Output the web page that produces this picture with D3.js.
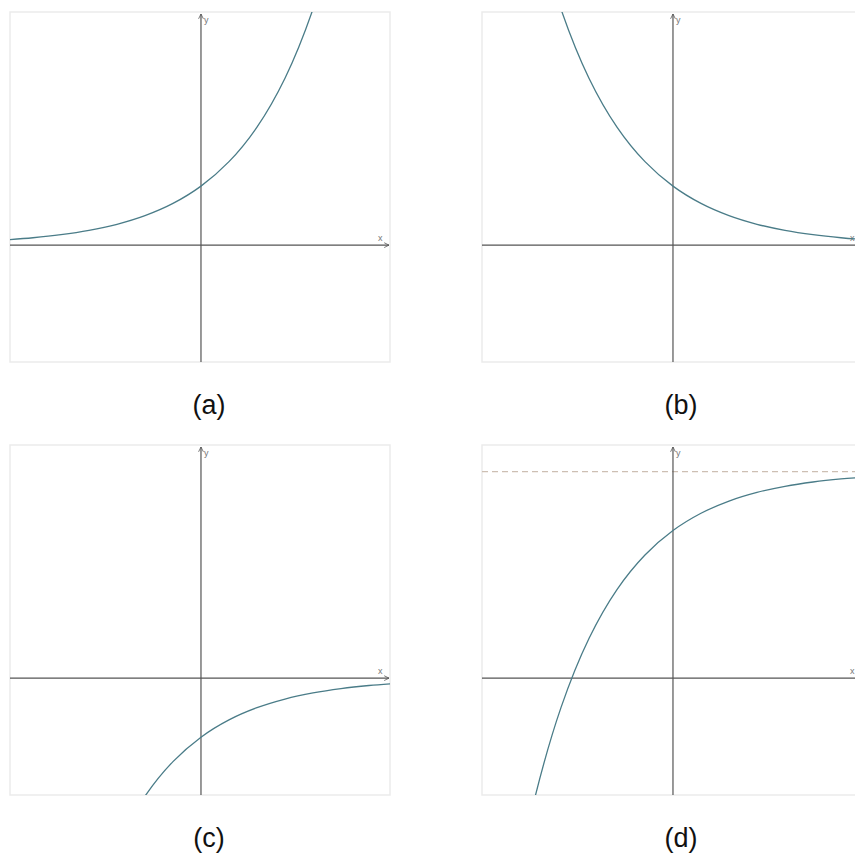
<!DOCTYPE html>
<html>
<head>
<meta charset="utf-8">
<script src="https://cdn.jsdelivr.net/npm/d3@7"></script>
<style>
  html, body { margin: 0; padding: 0; background: #fff; }
  svg { display: block; }
</style>
</head>
<body>
<svg id="chart" width="855" height="854"></svg>
<script>
// Sample positions along x (shared by all four graphs)
const xSamples = [-3.5, -3, -2.5, -2, -1.5, -1, -0.5, 0, 0.5, 1, 1.5, 2, 2.5, 3, 3.5];

// (a) growth: y = 2^x
const growthValues = [0.0884, 0.125, 0.1768, 0.25, 0.3536, 0.5, 0.7071, 1, 1.4142, 2, 2.8284, 4, 5.6569, 8, 11.3137];
// (b) decay: y = 2^-x
const decayValues = [11.3137, 8, 5.6569, 4, 2.8284, 2, 1.4142, 1, 0.7071, 0.5, 0.3536, 0.25, 0.1768, 0.125, 0.0884];
// (c) reflected decay: y = -2^-x
const negDecayValues = [-11.3137, -8, -5.6569, -4, -2.8284, -2, -1.4142, -1, -0.7071, -0.5, -0.3536, -0.25, -0.1768, -0.125, -0.0884];
// (d) limited growth: y = 3.5 - 2^-x, approaching the asymptote
const limitedValues = [-7.8137, -4.5, -2.1569, -0.5, 0.6716, 1.5, 2.0858, 2.5, 2.7929, 3, 3.1464, 3.25, 3.3232, 3.375, 3.4116];
const asymptoteValues = [null, null, null, 3.5];

const captions = ["(a)", "(b)", "(c)", "(d)"];
const seriesList = [growthValues, decayValues, negDecayValues, limitedValues];

// Visible window of each coordinate system
const xDomain = [-3.41, 3.375];
const yDomain = [-1.98, 3.95];

const svg = d3.select("#chart");
const panelW = 380, panelH = 350;
const panelOrigins = [[10, 12], [482, 12], [10, 445], [482, 445]];

const axisColor = "#555";
const curveColor = "#4a7c88";

const defs = svg.append("defs");
defs.append("marker")
  .attr("id", "arrow")
  .attr("viewBox", "0 0 10 10")
  .attr("refX", 9).attr("refY", 5)
  .attr("markerWidth", 6).attr("markerHeight", 6)
  .attr("markerUnits", "userSpaceOnUse")
  .attr("orient", "auto")
  .append("path")
  .attr("d", "M1,1 L9,5 L1,9")
  .attr("fill", "none")
  .attr("stroke", axisColor)
  .attr("stroke-width", 1.3);

seriesList.forEach((vals, i) => {
  const [left, top] = panelOrigins[i];
  const x = d3.scaleLinear().domain(xDomain).range([left, left + panelW]);
  const y = d3.scaleLinear().domain(yDomain).range([top + panelH, top]);

  const g = svg.append("g");

  defs.append("clipPath").attr("id", "clip" + i)
    .append("rect")
    .attr("x", left).attr("y", top)
    .attr("width", panelW).attr("height", panelH);

  // frame
  g.append("rect")
    .attr("x", left).attr("y", top)
    .attr("width", panelW).attr("height", panelH)
    .attr("fill", "none")
    .attr("stroke", "#ebebeb")
    .attr("stroke-width", 1.5);

  // asymptote (graph d only)
  if (asymptoteValues[i] != null) {
    g.append("line")
      .attr("x1", x(xDomain[0])).attr("x2", x(xDomain[1]))
      .attr("y1", y(asymptoteValues[i])).attr("y2", y(asymptoteValues[i]))
      .attr("stroke", "#cdbfb3")
      .attr("stroke-width", 1.3)
      .attr("stroke-dasharray", "6,4");
  }

  // x axis
  g.append("line")
    .attr("x1", x(xDomain[0])).attr("x2", x(xDomain[1]) - 1)
    .attr("y1", y(0)).attr("y2", y(0))
    .attr("stroke", axisColor).attr("stroke-width", 1.2)
    .attr("marker-end", "url(#arrow)");
  g.append("text")
    .attr("x", x(xDomain[1]) - 12).attr("y", y(0) - 4)
    .attr("font-family", "Liberation Sans, Arial, sans-serif")
    .attr("font-size", 9).attr("fill", "#777")
    .text("x");

  // y axis
  g.append("line")
    .attr("x1", x(0)).attr("x2", x(0))
    .attr("y1", y(yDomain[0])).attr("y2", y(yDomain[1]) + 2)
    .attr("stroke", axisColor).attr("stroke-width", 1.2)
    .attr("marker-end", "url(#arrow)");
  g.append("text")
    .attr("x", x(0) + 3).attr("y", y(yDomain[1]) + 11)
    .attr("font-family", "Liberation Sans, Arial, sans-serif")
    .attr("font-size", 9).attr("fill", "#777")
    .text("y");

  // curve
  const line = d3.line()
    .x((d, k) => x(xSamples[k]))
    .y(d => y(d))
    .curve(d3.curveCatmullRom.alpha(0.5));
  g.append("path")
    .attr("clip-path", "url(#clip" + i + ")")
    .attr("d", line(vals))
    .attr("fill", "none")
    .attr("stroke", curveColor)
    .attr("stroke-width", 1.3);

  // caption
  svg.append("text")
    .attr("x", left + panelW / 2 + 9)
    .attr("y", top + panelH + 52)
    .attr("text-anchor", "middle")
    .attr("font-family", "Liberation Sans, Arial, sans-serif")
    .attr("font-size", 27)
    .attr("fill", "#111")
    .text(captions[i]);
});
</script>
</body>
</html>
